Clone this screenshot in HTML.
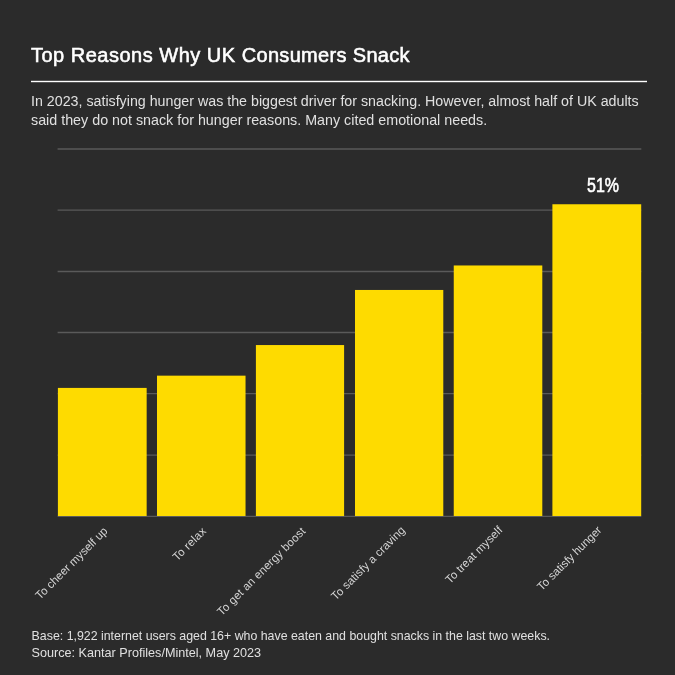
<!DOCTYPE html>
<html lang="en"><head><meta charset="utf-8"><title>Top Reasons Why UK Consumers Snack</title>
<style>
html,body{margin:0;padding:0}
body{width:675px;height:675px;background:#2b2b2b;overflow:hidden;position:relative;font-family:"Liberation Sans",sans-serif;color:#fff}
.abs{position:absolute;white-space:nowrap}
.title{left:31px;top:39.85px;font-size:20px;line-height:30px;letter-spacing:0.42px;color:#fff;-webkit-text-stroke:0.55px #fff}
.sub{left:31px;font-size:14.28px;line-height:19px;color:#e0e0e0}
.foot{left:31.6px;font-size:12.37px;line-height:17px;color:#e0e0e0}
.val{font-size:19.5px;line-height:20px;color:#fff;transform-origin:0 0;-webkit-text-stroke:0.6px #fff}
.lab{font-size:11.5px;line-height:14px;color:#d4d4d4;transform-origin:100% 50%;text-align:right}
svg{position:absolute;left:0;top:0}
</style></head><body>
<div class="abs title"><span style="letter-spacing:0.5px">Top Reasons Why UK </span><span style="letter-spacing:0.32px">Consumers Snack</span></div>
<div class="abs sub" style="top:91.9px;font-size:14.24px">In 2023, satisfying hunger was the biggest driver for snacking. However, almost half of UK adults</div>
<div class="abs sub" style="top:111.2px;font-size:14.3px">said they do not snack for hunger reasons. Many cited emotional needs.</div>
<svg width="675" height="675" viewBox="0 0 675 675">
<rect x="31" y="80.8" width="616" height="1.4" fill="#fff"/>
<g stroke="#5a5a5a" stroke-width="1.4">
<line x1="57.60" x2="641.30" y1="148.97" y2="148.97"/>
<line x1="57.60" x2="641.30" y1="210.10" y2="210.10"/>
<line x1="57.60" x2="641.30" y1="271.44" y2="271.44"/>
<line x1="57.60" x2="641.30" y1="332.45" y2="332.45"/>
<line x1="57.60" x2="641.30" y1="393.58" y2="393.58"/>
<line x1="57.60" x2="641.30" y1="455.10" y2="455.10"/>
<line x1="57.60" x2="641.30" y1="516.40" y2="516.40"/>
</g>
<g fill="#fedb00">
<rect x="57.90" y="387.91" width="88.76" height="128.11"/>
<rect x="157.00" y="375.66" width="88.54" height="140.36"/>
<rect x="255.90" y="345.05" width="88.20" height="170.97"/>
<rect x="355.00" y="289.96" width="88.29" height="226.06"/>
<rect x="453.75" y="265.47" width="88.55" height="250.55"/>
<rect x="552.40" y="204.25" width="88.80" height="311.77"/>
</g>
</svg>
<div class="abs val" style="left:587px;top:174.5px;transform:scaleX(0.82)">51%</div>
<div class="abs lab" style="right:569.65px;top:522.02px;letter-spacing:0px;transform:rotate(-45deg)">To cheer myself up</div>
<div class="abs lab" style="right:470.62px;top:522.02px;letter-spacing:0.22px;transform:rotate(-45deg)">To relax</div>
<div class="abs lab" style="right:371.59px;top:522.02px;letter-spacing:0.11px;transform:rotate(-45deg)">To get an energy boost</div>
<div class="abs lab" style="right:271.86px;top:521.32px;letter-spacing:0.06px;transform:rotate(-45deg)">To satisfy a craving</div>
<div class="abs lab" style="right:174.73px;top:520.82px;letter-spacing:0.04px;transform:rotate(-45deg)">To treat myself</div>
<div class="abs lab" style="right:75.60px;top:520.92px;letter-spacing:-0.09px;transform:rotate(-45deg)">To satisfy hunger</div>
<div class="abs foot" style="top:627.8px">Base: 1,922 internet users aged 16+ who have eaten and bought snacks in the last two weeks.</div>
<div class="abs foot" style="top:644.8px;font-size:12.63px">Source: Kantar Profiles/Mintel, May 2023</div>
</body></html>
